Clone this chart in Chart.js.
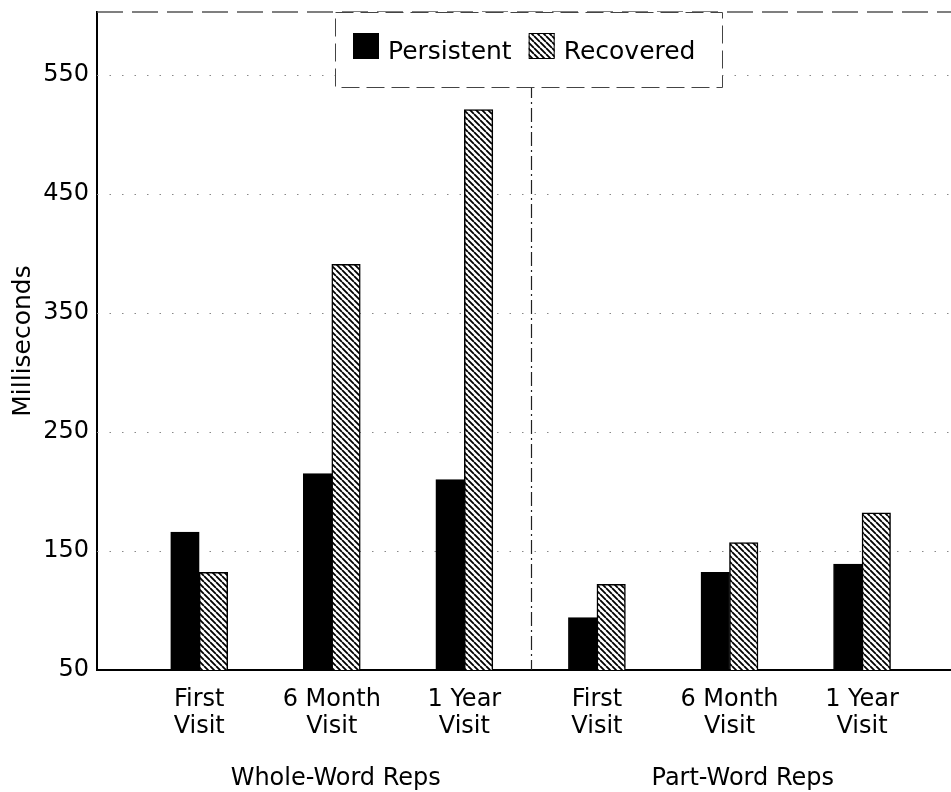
<!DOCTYPE html>
<html>
<head>
<meta charset="utf-8">
<script src="https://cdn.jsdelivr.net/npm/chart.js@4.4.0/dist/chart.umd.min.js"></script>
<style>
  html, body { margin: 0; padding: 0; background: #fff; }
  #wrap { width: 951px; height: 792px; }
</style>
</head>
<body>
<div id="wrap"><canvas id="chart" width="951" height="792"></canvas></div>
<script>
// values (ms)
var visits = [['First', 'Visit'], ['6 Month', 'Visit'], ['1 Year', 'Visit'],
              ['First', 'Visit'], ['6 Month', 'Visit'], ['1 Year', 'Visit']];
var groups = ['Whole-Word Reps', 'Part-Word Reps'];
var persistent = [166, 215, 210, 94, 132, 139];
var recovered = [132, 391, 521, 122, 157, 182];
var yTicks = [50, 150, 250, 350, 450, 550];

Chart.defaults.font.family = "'DejaVu Sans', sans-serif";
Chart.defaults.color = '#000';

var canvas = document.getElementById('chart');
var ctx0 = canvas.getContext('2d');

// diagonal hatch for the Recovered bars
function makeHatch() {
  var s = 6;
  var c = document.createElement('canvas');
  c.width = s; c.height = s;
  var g = c.getContext('2d');
  g.fillStyle = '#fff';
  g.fillRect(0, 0, s, s);
  g.strokeStyle = '#000';
  g.lineWidth = 1.8;
  g.beginPath();
  for (var k = -1; k <= 1; k++) {
    g.moveTo(k * s, 0);
    g.lineTo(k * s + s, s);
  }
  g.stroke();
  return ctx0.createPattern(c, 'repeat');
}
var hatch = makeHatch();

function line(ctx, x1, y1, x2, y2) {
  ctx.beginPath();
  ctx.moveTo(x1, y1);
  ctx.lineTo(x2, y2);
  ctx.stroke();
}

var decor = {
  id: 'decor',
  beforeDatasetsDraw: function(chart) {
    var ctx = chart.ctx, a = chart.chartArea, xs = chart.scales.x, ys = chart.scales.y;
    ctx.save();
    // dotted grid
    ctx.strokeStyle = '#888';
    ctx.lineWidth = 1;
    ctx.setLineDash([1.5, 11]);
    yTicks.slice(1).forEach(function(v) {
      var py = Math.round(ys.getPixelForValue(v)) + 0.5;
      line(ctx, a.left, py, a.right, py);
    });
    // broken top frame
    ctx.setLineDash([26, 9]);
    ctx.strokeStyle = '#555';
    ctx.lineWidth = 1.5;
    line(ctx, a.left, a.top, a.right, a.top);
    // divider between the two groups
    var px = Math.round(xs.getPixelForValue(3.5)) + 0.5;
    ctx.setLineDash([14, 4, 2, 4]);
    ctx.strokeStyle = '#222';
    ctx.lineWidth = 1.2;
    line(ctx, px, a.top, px, a.bottom);
    ctx.restore();
  },
  afterDatasetsDraw: function(chart) {
    var ctx = chart.ctx, a = chart.chartArea, xs = chart.scales.x;
    ctx.save();
    // legend box
    var L = 335, T = a.top, W = 387, H = 75;
    ctx.fillStyle = '#fff';
    ctx.fillRect(L, T, W, H);
    ctx.strokeStyle = '#444';
    ctx.lineWidth = 1;
    ctx.setLineDash([18, 7]);
    ctx.strokeRect(L + 0.5, T + 0.5, W, H);
    ctx.setLineDash([]);
    ctx.font = "25px 'DejaVu Sans'";
    ctx.textBaseline = 'alphabetic';
    ctx.textAlign = 'left';
    var x = L + 18;
    chart.data.datasets.forEach(function(ds) {
      ctx.fillStyle = ds.backgroundColor;
      ctx.fillRect(x, T + 21, 26, 26);
      ctx.strokeStyle = '#000';
      ctx.lineWidth = 1;
      ctx.strokeRect(x + 0.5, T + 21.5, 25, 25);
      ctx.fillStyle = '#000';
      ctx.fillText(ds.label, x + 35, T + 47);
      x += 35 + ctx.measureText(ds.label).width + 17;
    });
    // group captions under the visit labels
    ctx.font = "24px 'DejaVu Sans'";
    ctx.textAlign = 'center';
    ctx.fillText(groups[0], xs.getPixelForValue(2.03), 785);
    ctx.fillText(groups[1], xs.getPixelForValue(5.1), 785);
    ctx.restore();
  }
};

new Chart(canvas, {
  type: 'bar',
  data: {
    datasets: [{
      label: 'Persistent',
      data: persistent.map(function(v, i) { return { x: i + 1, y: v }; }),
      backgroundColor: '#000',
      borderColor: '#000',
      borderWidth: 1,
      barThickness: 28.5
    }, {
      label: 'Recovered',
      data: recovered.map(function(v, i) { return { x: i + 1, y: v }; }),
      backgroundColor: hatch,
      borderColor: '#000',
      borderWidth: 1.5,
      barThickness: 28.5
    }]
  },
  options: {
    responsive: false,
    animation: false,
    layout: { padding: { top: 12, right: 0, left: 0, bottom: 0 } },
    plugins: {
      legend: { display: false },
      tooltip: { enabled: false }
    },
    scales: {
      x: {
        type: 'linear',
        offset: false,
        min: 0.229,
        max: 6.671,
        afterBuildTicks: function(s) {
          s.ticks = visits.map(function(v, i) { return { value: i + 1 }; });
        },
        afterFit: function(s) { s.height = 122; s.paddingLeft = 0; s.paddingRight = 0; },
        ticks: {
          autoSkip: false,
          maxRotation: 0,
          padding: 17,
          color: '#000',
          font: { size: 24, lineHeight: 1.1 },
          callback: function(v) { return visits[Math.round(v) - 1]; }
        },
        grid: { color: 'rgba(0,0,0,0)', drawTicks: false, offset: false },
        border: { display: true, color: '#000', width: 2 }
      },
      y: {
        min: 50,
        max: 603,
        afterBuildTicks: function(s) {
          s.ticks = yTicks.map(function(v) { return { value: v }; });
        },
        afterFit: function(s) { s.width = 97; s.paddingTop = 0; s.paddingBottom = 0; },
        ticks: { padding: 8, color: '#000', font: { size: 24 } },
        grid: { display: false, drawTicks: false },
        border: { display: true, color: '#000', width: 2 },
        title: {
          display: true,
          text: 'Milliseconds',
          color: '#000',
          font: { size: 25 },
          padding: { top: 8, bottom: 0 }
        }
      }
    }
  },
  plugins: [decor]
});
</script>
</body>
</html>
